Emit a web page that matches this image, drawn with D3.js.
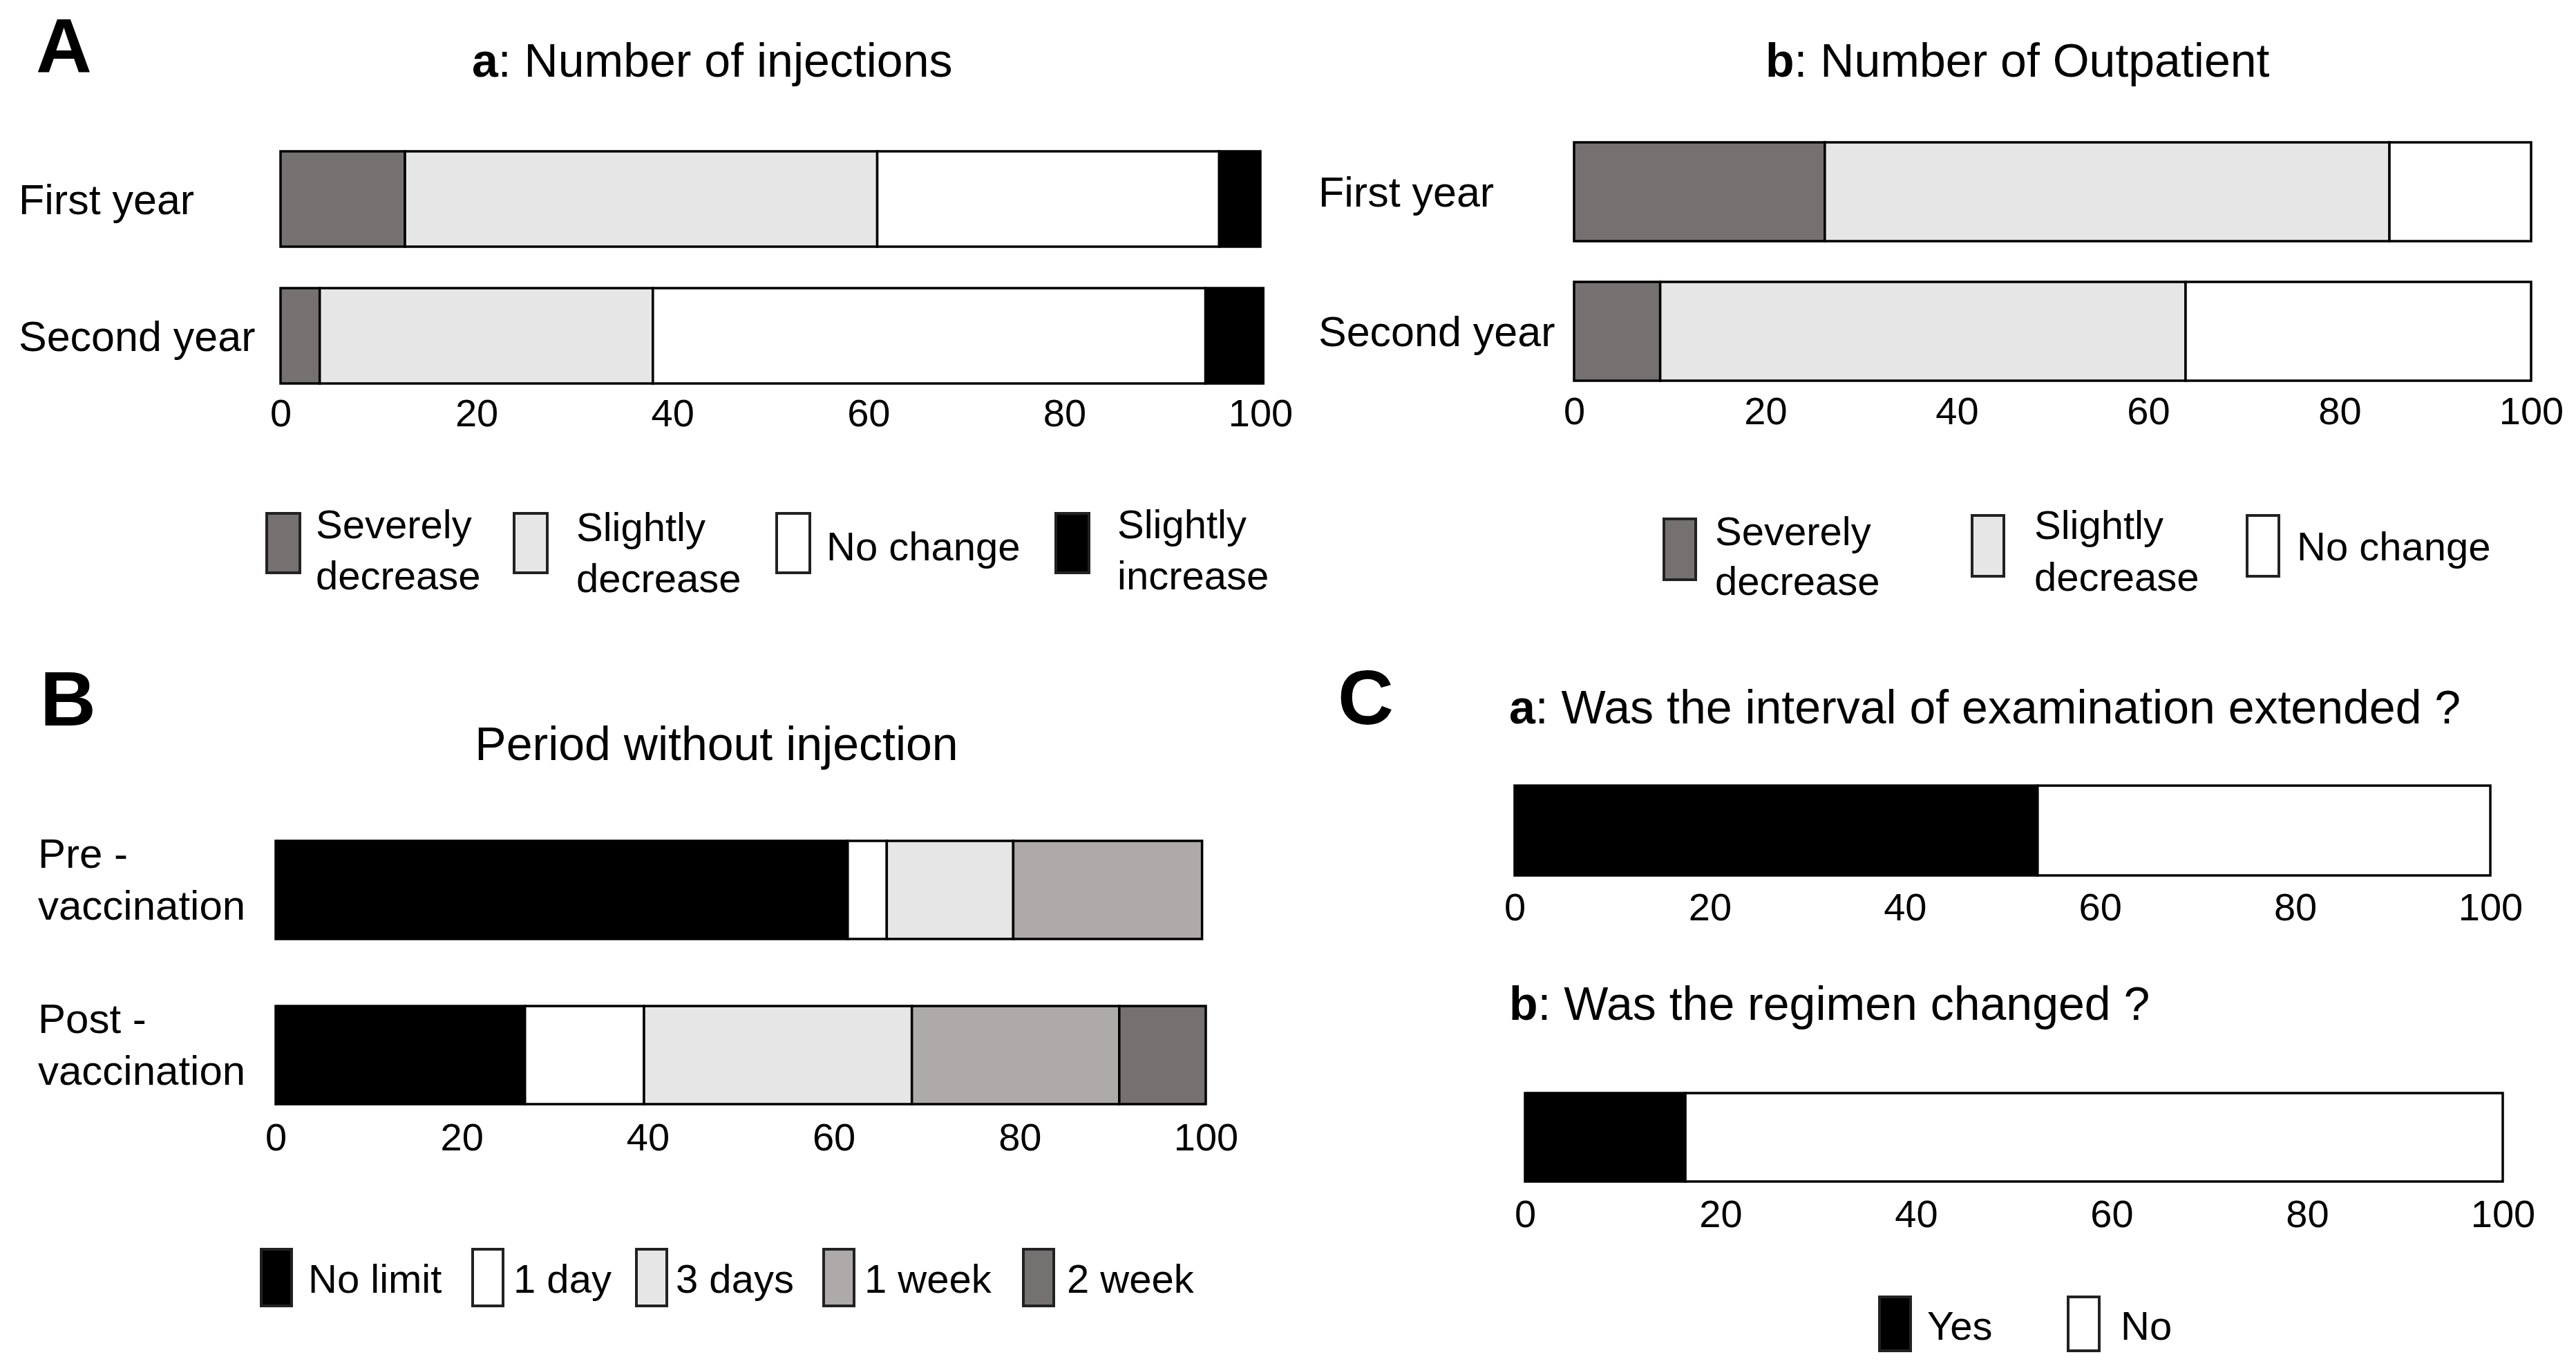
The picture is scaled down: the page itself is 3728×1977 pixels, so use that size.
<!DOCTYPE html>
<html>
<head>
<meta charset="utf-8">
<script src="https://cdn.jsdelivr.net/npm/d3@7"></script>
<style>
  body { margin: 0; background: #fff; }
  text { font-family: "Liberation Sans", Arial, sans-serif; fill: #000; }
</style>
</head>
<body>
<div id="chart"></div>
<script>
// ---- data (percent of respondents) ----
var yearLabels = ["First year", "Second year"];

var injectionKeys = ["Severely decrease", "Slightly decrease", "No change", "Slightly increase"];
var injectionFirst = [12.7, 48.2, 34.9, 4.2];
var injectionSecond = [4.0, 34.0, 56.4, 5.9];

var outpatientKeys = ["Severely decrease", "Slightly decrease", "No change"];
var outpatientFirst = [26.2, 59.0, 14.8];
var outpatientSecond = [9.0, 54.9, 36.1];

var periodLabels = ["Pre - vaccination", "Post - vaccination"];
var periodKeys = ["No limit", "1 day", "3 days", "1 week", "2 week"];
var periodPre = [61.5, 4.2, 13.6, 20.3, 0];
var periodPost = [26.8, 12.8, 28.8, 22.3, 9.3];

var answerKeys = ["Yes", "No"];
var intervalExtended = [53.6, 46.4];
var regimenChanged = [16.4, 83.6];

var tickValues = [0, 20, 40, 60, 80, 100];

// ---- styling ----
var colorOf = {
  "Severely decrease": "#767171",
  "Slightly decrease": "#e7e6e6",
  "No change": "#ffffff",
  "Slightly increase": "#000000",
  "No limit": "#000000",
  "1 day": "#ffffff",
  "3 days": "#e7e6e6",
  "1 week": "#aeaaaa",
  "2 week": "#767171",
  "Yes": "#000000",
  "No": "#ffffff"
};

var W = 3728, H = 1977;
var FS = 58, TICK_FS = 56, TITLE_FS = 68;

var svg = d3.select("#chart").append("svg")
  .attr("width", W)
  .attr("height", H)
  .attr("viewBox", "0 0 " + W + " " + H);

svg.append("rect").attr("width", W).attr("height", H).attr("fill", "#fff");

// build a table for d3.stack from the row arrays
function makeTable(cats, keys, rows) {
  return cats.map(function(c, i) {
    var o = {cat: c};
    keys.forEach(function(k, j) { o[k] = rows[i][j]; });
    return o;
  });
}

function drawStacked(o) {
  var table = makeTable(o.cats, o.keys, o.rows);
  var series = d3.stack().keys(o.keys)(table);

  var x = d3.scaleLinear().domain([0, 100]).range(o.xRange);
  var y = d3.scaleBand().domain(o.cats).range(o.yRange).paddingInner(o.pad || 0).paddingOuter(0);

  var g = svg.append("g");

  g.selectAll("g.series")
    .data(series)
    .enter()
    .append("g")
    .attr("class", "series")
    .attr("fill", function(d) { return colorOf[d.key]; })
    .selectAll("rect")
    .data(function(d) { return d; })
    .enter()
    .filter(function(d) { return d[1] - d[0] > 0; })
    .append("rect")
    .attr("x", function(d) { return x(d[0]); })
    .attr("y", function(d) { return y(d.data.cat); })
    .attr("width", function(d) { return x(d[1]) - x(d[0]); })
    .attr("height", y.bandwidth())
    .attr("stroke", "#000")
    .attr("stroke-width", 3.5);

  // category labels
  if (o.labelX !== undefined) {
    var fs = o.labelFS || FS;
    o.cats.forEach(function(c) {
      var cy = y(c) + y.bandwidth() / 2;
      var lines = o.labelLines ? o.labelLines(c) : [c];
      var t = g.append("text")
        .attr("font-size", fs)
        .attr("x", o.labelX);
      if (lines.length === 1) {
        t.attr("y", cy + fs * 0.36).text(c);
      } else {
        t.append("tspan").attr("x", o.labelX).attr("y", cy - 32).text(lines[0]);
        t.append("tspan").attr("x", o.labelX).attr("y", cy + 43).text(lines[1]);
      }
    });
  }

  // x axis: labels only
  var axis = d3.axisBottom(x).tickValues(tickValues).tickSize(0).tickPadding(0);
  var ag = g.append("g")
    .attr("transform", "translate(0," + (o.tickBaseline - TICK_FS * 0.71) + ")")
    .call(axis);
  ag.select(".domain").remove();
  ag.attr("font-family", null).attr("font-size", null);
  ag.selectAll("text")
    .attr("font-size", TICK_FS)
    .attr("fill", "#000");
}

function drawTitle(x, y, bold, rest, anchor) {
  var t = svg.append("text")
    .attr("x", x)
    .attr("y", y)
    .attr("font-size", TITLE_FS)
    .attr("text-anchor", anchor || "start");
  if (bold) t.append("tspan").attr("font-weight", "bold").text(bold);
  t.append("tspan").text(rest);
}

function drawLetter(x, y, s) {
  svg.append("text")
    .attr("x", x)
    .attr("y", y)
    .attr("font-size", 112)
    .attr("font-weight", "bold")
    .text(s);
}

// legend: items = [{key, lines, bx, tx}], box geometry shared
function drawLegend(items, boxY, boxW, boxH, lineY) {
  var g = svg.append("g");
  items.forEach(function(it) {
    g.append("rect")
      .attr("x", it.bx)
      .attr("y", it.by !== undefined ? it.by : boxY)
      .attr("width", boxW)
      .attr("height", boxH)
      .attr("fill", colorOf[it.key])
      .attr("stroke", "#222")
      .attr("stroke-width", 4);
    var t = g.append("text").attr("font-size", FS);
    var ys = it.ys || lineY;
    it.lines.forEach(function(l, i) {
      t.append("tspan").attr("x", it.tx).attr("y", ys[i]).text(l);
    });
  });
}

// ---- panel A ----
drawLetter(52, 105, "A");

drawTitle(683, 111, "a", ": Number of injections");
drawStacked({
  cats: yearLabels,
  keys: injectionKeys,
  rows: [injectionFirst, injectionSecond],
  xRange: [406, 1824],
  yRange: [219, 555],
  pad: 0.303,
  labelX: 27,
  labelFS: 61,
  tickBaseline: 617
});
drawLegend([
  {key: injectionKeys[0], lines: ["Severely", "decrease"], bx: 386, tx: 457},
  {key: injectionKeys[1], lines: ["Slightly", "decrease"], bx: 744, tx: 834, ys: [783, 857]},
  {key: injectionKeys[2], lines: ["No change"], bx: 1124, tx: 1196, ys: [811]},
  {key: injectionKeys[3], lines: ["Slightly", "increase"], bx: 1528, tx: 1617}
], 743, 48, 86, [779, 853]);

drawTitle(2555, 111, "b", ": Number of Outpatient");
drawStacked({
  cats: yearLabels,
  keys: outpatientKeys,
  rows: [outpatientFirst, outpatientSecond],
  xRange: [2278, 3663],
  yRange: [206, 551],
  pad: 0.292,
  labelX: 1908,
  labelFS: 61,
  tickBaseline: 614
});
drawLegend([
  {key: outpatientKeys[0], lines: ["Severely", "decrease"], bx: 2408, by: 751, tx: 2482, ys: [789, 861]},
  {key: outpatientKeys[1], lines: ["Slightly", "decrease"], bx: 2854, tx: 2944, ys: [780, 855]},
  {key: outpatientKeys[2], lines: ["No change"], bx: 3252, tx: 3324, ys: [811]}
], 746, 46, 88, [780, 855]);

// ---- panel B ----
drawLetter(58, 1050, "B");
drawTitle(1037, 1100, null, "Period without injection", "middle");
drawStacked({
  cats: periodLabels,
  keys: periodKeys,
  rows: [periodPre, periodPost],
  xRange: [399, 1745],
  yRange: [1217, 1598],
  pad: 0.406,
  labelX: 55,
  labelFS: 60,
  labelLines: function(c) {
    var i = c.indexOf(" - ");
    return [c.slice(0, i + 2), c.slice(i + 3)];
  },
  tickBaseline: 1665
});
drawLegend([
  {key: periodKeys[0], lines: ["No limit"], bx: 378, tx: 446},
  {key: periodKeys[1], lines: ["1 day"], bx: 684, tx: 743},
  {key: periodKeys[2], lines: ["3 days"], bx: 921, tx: 978},
  {key: periodKeys[3], lines: ["1 week"], bx: 1192, tx: 1251},
  {key: periodKeys[4], lines: ["2 week"], bx: 1481, tx: 1544}
], 1808, 44, 82, [1871]);

// ---- panel C ----
drawLetter(1936, 1048, "C");
drawTitle(2184, 1047, "a", ": Was the interval of examination extended ?");
drawStacked({
  cats: ["a"],
  keys: answerKeys,
  rows: [intervalExtended],
  xRange: [2192, 3604],
  yRange: [1137, 1267],
  tickBaseline: 1332
});
drawTitle(2184, 1476, "b", ": Was the regimen changed ?");
drawStacked({
  cats: ["b"],
  keys: answerKeys,
  rows: [regimenChanged],
  xRange: [2207, 3622],
  yRange: [1582, 1710],
  tickBaseline: 1776
});
drawLegend([
  {key: answerKeys[0], lines: ["Yes"], bx: 2720, tx: 2789},
  {key: answerKeys[1], lines: ["No"], bx: 2993, tx: 3069}
], 1877, 45, 78, [1939]);
</script>
</body>
</html>
